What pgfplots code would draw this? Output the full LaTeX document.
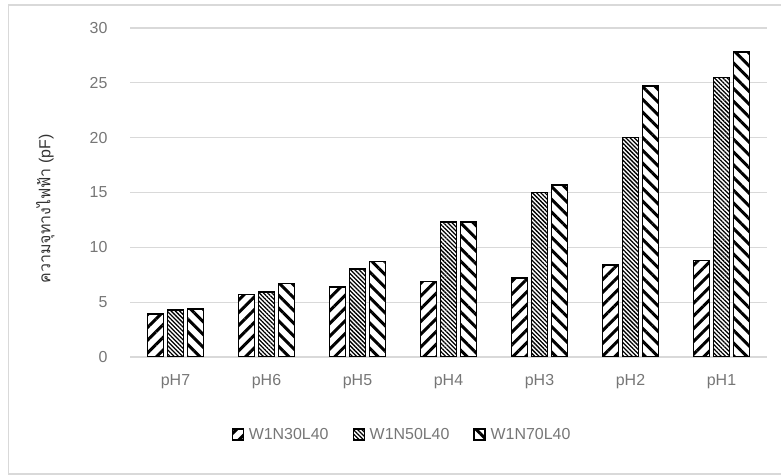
\documentclass[border=0pt]{standalone}
\usepackage{pgfplots}
\pgfplotsset{compat=1.18}
\usetikzlibrary{patterns.meta}
\usepackage{fontspec}
\setmainfont{Liberation Sans}
\newfontfamily\thaifont[Script=Thai]{Loma}
\definecolor{txtgray}{RGB}{118,118,118}
\definecolor{gridgray}{RGB}{217,217,217}
\begin{document}
\begin{tikzpicture}
\useasboundingbox (0,0) rectangle (781bp,475bp);
\draw[gridgray, line width=1.5bp] (8.5bp,1bp) rectangle (790bp,470bp);
\begin{axis}[
  at={(130bp,118bp)}, anchor=south west,
  scale only axis, width=637bp, height=329bp,
  ybar=4bp, bar width=16bp,
  xmin=-0.5, xmax=6.5, ymin=0, ymax=30,
  ytick={0,5,...,30},
  xtick={0,...,6},
  xticklabels={pH7,pH6,pH5,pH4,pH3,pH2,pH1},
  axis line style={draw=none},
  major tick length=0pt,
  ymajorgrids, grid style={gridgray, line width=1.2bp},
  tick label style={font=\fontsize{16}{18}\selectfont, text=txtgray},
  /pgf/number format/assume math mode=true,
  yticklabel style={xshift=-19bp},
  xticklabel style={yshift=-14bp},
  ylabel={{\thaifont ความจุทางไฟฟ้า} (pF)},
  ylabel style={at={(axis description cs:-0.133,0.45)}, anchor=center, rotate=0, font=\fontsize{16}{18}\selectfont, text=black!80},
  legend columns=3,
  legend style={at={(axis description cs:0.427,-0.237)}, anchor=center, draw=none, fill=none,
    font=\fontsize{16}{18}\selectfont, text=txtgray, column sep=3bp,
    /tikz/every even column/.append style={column sep=22bp}},
  legend image code/.code={\draw[#1, line width=1.2bp] (0bp,-5bp) rectangle (11bp,6bp);},
]
\addplot[draw=black, line width=1.6bp, fill=white, postaction={pattern={Lines[angle=45,distance=9bp,line width=3bp]}, pattern color=black}] coordinates {(0,3.9) (1,5.7) (2,6.4) (3,6.9) (4,7.2) (5,8.4) (6,8.8)};
\addplot[draw=black, line width=1.6bp, fill=white, postaction={pattern={Lines[angle=-45,distance=3bp,line width=1.3bp]}, pattern color=black}] coordinates {(0,4.3) (1,5.9) (2,8.0) (3,12.3) (4,15.0) (5,20.0) (6,25.5)};
\addplot[draw=black, line width=1.6bp, fill=white, postaction={pattern={Lines[angle=-45,distance=9bp,line width=3bp]}, pattern color=black}] coordinates {(0,4.4) (1,6.7) (2,8.7) (3,12.3) (4,15.7) (5,24.7) (6,27.8)};
\legend{W1N30L40,W1N50L40,W1N70L40}
\end{axis}
\end{tikzpicture}
\end{document}
